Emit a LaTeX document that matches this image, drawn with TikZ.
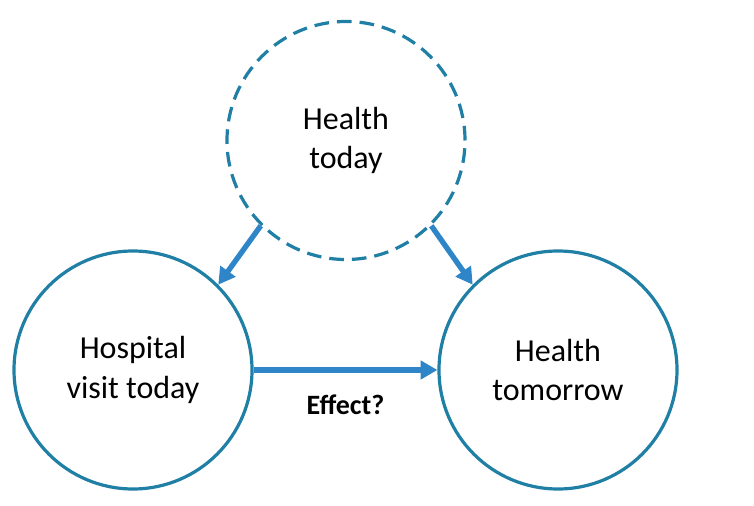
\documentclass[tikz,border=0pt]{standalone}
\usepackage{fontspec}
\setmainfont{Carlito}
\usetikzlibrary{arrows.meta}
\definecolor{circ}{RGB}{31,127,164}
\definecolor{arr}{RGB}{46,134,200}
\tikzset{
  var/.style={circle, draw=circ, line width=2.4pt, minimum size=178.5pt, inner sep=0pt, align=center,
    font=\fontsize{24}{29.5}\selectfont},
  latent/.style={var, dash pattern=on 11pt off 6pt},
  link/.style={draw=arr, line width=4pt, -{Triangle[length=12.5pt,width=13.5pt]}}
}
\begin{document}
\begin{tikzpicture}[x=0.75pt,y=-0.75pt]
\useasboundingbox (0,0) rectangle (754,506);
\node[latent] (h) at (346,140.5) {Health\\today};
\node[var] (v) at (133,370) {Hospital\\visit today};
\node[var] (t) at (558,370) {Health\\tomorrow};
\draw[link] (h.225) -- (v.45);
\draw[link] (h.-45) -- (t.135);
\draw[link] (v.east) -- node[below=13pt, font=\fontsize{21}{25}\selectfont\bfseries, text=black] (e) {Effect?} (t.west);
\end{tikzpicture}
\end{document}
